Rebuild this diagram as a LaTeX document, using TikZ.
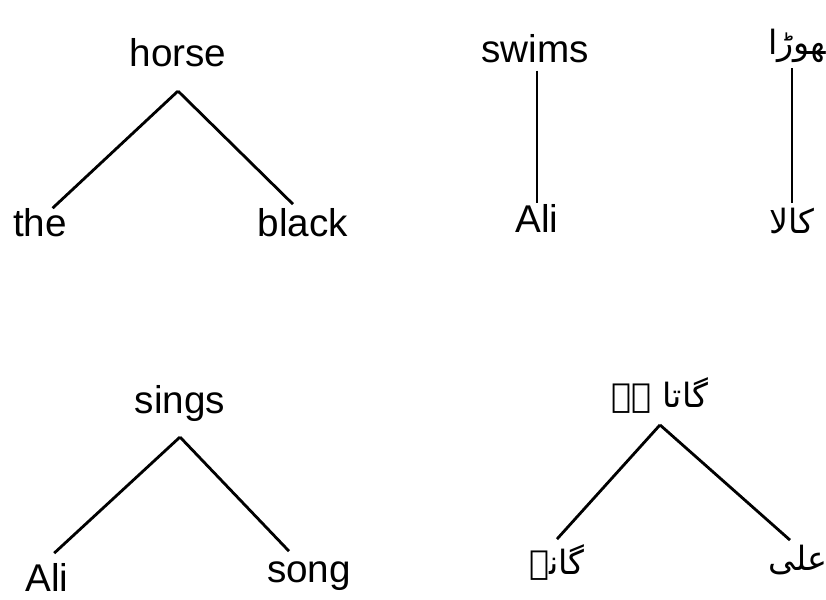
\documentclass[tikz,border=0pt]{standalone}
\usepackage{fontspec}
\setmainfont{Liberation Sans}
\newfontfamily\urdufont[Script=Arabic]{DejaVu Sans}
\TeXXeTstate=1

\begin{document}
\begin{tikzpicture}[
    x=0.01cm, y=-0.01cm,
    word/.style={font=\fontsize{11}{13}\selectfont, inner sep=0pt,
                 text height=8pt, text depth=2pt},
    head/.style={word, outer sep=1.7mm},
    urdu/.style={font=\urdufont\fontsize{9.5}{12}\selectfont, inner sep=0pt,
                 outer sep=0.5mm},
    edge/.style={line width=0.8pt}
  ]
    \clip (0,0) rectangle (826,600);

    % the black horse
    \node[head, anchor=base] (horse) at (178,67)  {horse};
    \node[word, anchor=base] (the)   at (40,237)  {the};
    \node[word, anchor=base] (black) at (303,237) {black};
    \draw[edge] (horse.south) -- ([xshift=-1.5mm]the.north east);
    \draw[edge] (horse.south) -- ([xshift=-1mm,yshift=0.4mm]black.north);

    % Ali swims
    \node[word, anchor=base] (swims) at (535,63)  {swims};
    \node[word, anchor=base] (ali1)  at (537,232) {Ali};
    \draw[edge] (swims.south -| ali1.north) -- (ali1.north);

    % urdu: kala ghora
    \node[urdu] (ghora) at (805,44)  {\beginR گھوڑا\endR};
    \node[urdu] (kala)  at (792,221) {\beginR کالا\endR};
    \draw[edge] (ghora.south -| kala.north) -- (kala.north);

    % Ali sings song
    \node[head, anchor=base] (sings) at (180,413) {sings};
    \node[word, anchor=base] (ali2)  at (47,592)  {Ali};
    \node[word, anchor=base] (song)  at (309,583) {song};
    \draw[edge] (sings.south) -- ([xshift=-1.5mm,yshift=1mm]ali2.north east);
    \draw[edge] (sings.south) -- ([xshift=-2mm,yshift=0.3mm]song.north);

    % urdu: Ali gana gata hai
    \node[urdu, outer sep=1.2mm] (gata) at (660,395) {\beginR گاتا ہے\endR};
    \node[urdu] (gane) at (557,562) {\beginR گانے\endR};
    \node[urdu] (ali3) at (798,560) {\beginR علی\endR};
    \draw[edge] (gata.south) -- (gane.north);
    \draw[edge] (gata.south) -- ([xshift=-0.8mm]ali3.north);
  \end{tikzpicture}
\end{document}
